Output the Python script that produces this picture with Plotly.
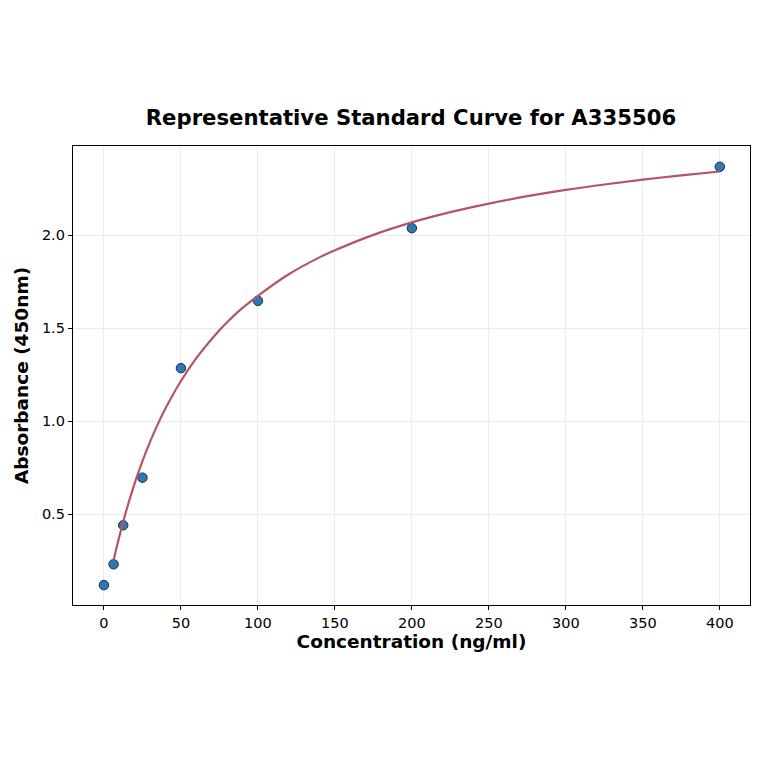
import plotly.graph_objects as go

# measured standards
conc = [0, 6.25, 12.5, 25, 50, 100, 200, 400]
absorbance = [0.118, 0.23, 0.44, 0.696, 1.285, 1.647, 2.038, 2.368]

# fitted curve
curve_x = [6.25, 8, 10, 12.5, 15, 20, 25, 30, 35, 40, 50, 60, 75, 80, 90, 100,
           120, 140, 150, 175, 200, 225, 250, 275, 300, 325, 350, 375, 400]
curve_y = [0.251, 0.313, 0.380, 0.459, 0.533, 0.667, 0.785, 0.890, 0.984, 1.069,
           1.216, 1.339, 1.489, 1.532, 1.609, 1.674, 1.790, 1.881, 1.919, 2.002,
           2.069, 2.124, 2.170, 2.210, 2.244, 2.273, 2.299, 2.322, 2.343]

x_ticks = [0, 50, 100, 150, 200, 250, 300, 350, 400]
y_ticks = [0.5, 1.0, 1.5, 2.0]

FONT = "DejaVu Sans"

fig = go.Figure()
fig.add_trace(go.Scatter(
    x=conc, y=absorbance, mode="markers",
    marker=dict(size=9.5, color="#2b78b4", line=dict(color="#1c2f45", width=1)),
    showlegend=False))
fig.add_trace(go.Scatter(
    x=curve_x, y=curve_y, mode="lines", line_shape="spline",
    line=dict(color="#b65466", width=2.2),
    showlegend=False))

axis_common = dict(
    showline=True, linecolor="black", linewidth=1.3, mirror=True,
    ticks="outside", ticklen=4, tickwidth=1.1, tickcolor="black",
    showgrid=True, gridcolor="#ebebeb", gridwidth=0.8, zeroline=False,
    tickfont=dict(family=FONT, size=14.5, color="black"),
)

fig.update_layout(
    width=764, height=764,
    paper_bgcolor="white", plot_bgcolor="white",
    margin=dict(l=65, r=22, t=138, b=167),
    title=dict(text="<b>Representative Standard Curve for A335506</b>",
               font=dict(family=FONT, size=21.2, color="black"),
               x=0.5275, xanchor="center", y=0.856, yanchor="middle"),
    xaxis=dict(axis_common, range=[-20.1, 419.6], tickvals=x_ticks,
               title=dict(text="<b>Concentration (ng/ml)</b>", standoff=4,
                          font=dict(family=FONT, size=18.5, color="black"))),
    yaxis=dict(axis_common, range=[0.011, 2.48], tickvals=y_ticks,
               tickformat=".1f",
               title=dict(text="<b>Absorbance (450nm)</b>", standoff=8,
                          font=dict(family=FONT, size=18.5, color="black"))),
)

fig.write_html("out.html")
